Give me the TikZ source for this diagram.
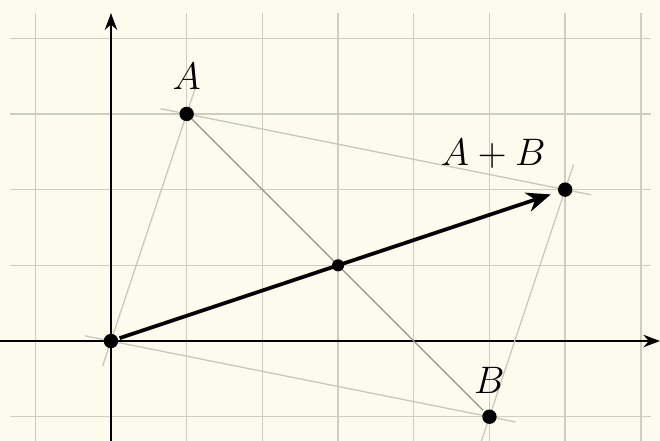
\documentclass[tikz,border=0pt]{standalone}
\usetikzlibrary{arrows.meta}
\definecolor{bg}{HTML}{FDFBEE}
\definecolor{gridc}{HTML}{CFCDC0}
\definecolor{lightl}{HTML}{C8C8C0}
\begin{document}
\begin{tikzpicture}[
  dot/.style={circle,fill=black,inner sep=0pt,minimum size=0.19cm},
  lab/.style={font=\Large},
  ext/.style={draw=lightl,line width=0.5pt,shorten >=-0.35cm,shorten <=-0.35cm},
]
\fill[bg] (-1.466,-1.32) rectangle (7.253,4.505);
\useasboundingbox (-1.466,-1.32) rectangle (7.253,4.505);
\draw[gridc,line width=0.5pt] (-1.34,-1.32) grid (7.13,4.33);
\draw[-{Stealth[length=2.2mm]},line width=0.7pt] (-1.466,0) -- (7.253,0);
\draw[-{Stealth[length=2.2mm]},line width=0.7pt] (0,-1.32) -- (0,4.33);
\coordinate (O) at (0,0);
\coordinate (A) at (1,3);
\coordinate (B) at (5,-1);
\coordinate (S) at (6,2);
\coordinate (M) at (3,1);
\draw[ext] (O) -- (A);
\draw[ext] (O) -- (B);
\draw[ext] (A) -- (S);
\draw[ext] (B) -- (S);
\draw[gray!85,line width=0.45pt,shorten >=0.12cm,shorten <=0.1cm] (A) -- (B);
\draw[-{Stealth[length=3.2mm,width=2.6mm]},line width=1.4pt,shorten <=0.12cm,shorten >=0.2cm] (O) -- (S);
\node[dot] (o) at (O) {};
\node[dot] (a) at (A) {};
\node[dot] (b) at (B) {};
\node[dot] (s) at (S) {};
\node[dot,minimum size=0.16cm] (m) at (M) {};
\node[lab] (la) at (1,3.5) {$A$};
\node[lab] (lb) at (5,-0.52) {$B$};
\node[lab] (ls) at (5.05,2.47) {$A+B$};
\end{tikzpicture}
\end{document}
